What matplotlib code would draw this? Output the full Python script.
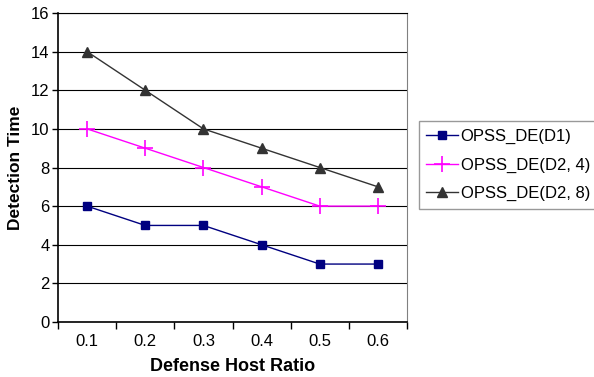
import matplotlib.pyplot as plt
import numpy as np

plt.rcParams['font.family'] = ['Liberation Sans', 'DejaVu Sans']

# data
ratios = ["0.1", "0.2", "0.3", "0.4", "0.5", "0.6"]
d1 = [6, 5, 5, 4, 3, 3]
d2_4 = [10, 9, 8, 7, 6, 6]
d2_8 = [14, 12, 10, 9, 8, 7]

fig = plt.figure(figsize=(5.94, 3.77), dpi=100)
ax = fig.add_axes([58 / 594, 55 / 377, 349 / 594, 309 / 377])

x = np.arange(len(ratios))
ax.plot(x, d1, color="#000080", marker="s", markersize=6, lw=1, label="OPSS_DE(D1)")
ax.plot(x, d2_4, color="#FF00FF", marker="+", markersize=12, mew=1.2, lw=1, label="OPSS_DE(D2, 4)")
ax.plot(x, d2_8, color="#333333", marker="^", markersize=7.5, lw=1, label="OPSS_DE(D2, 8)")

ax.set_xlim(-0.5, len(ratios) - 0.5)
ax.set_ylim(0, 16)
ax.set_yticks(range(0, 17, 2))
ax.set_xticks(x)
ax.set_xticklabels(ratios)
ax.set_xticks(np.arange(-0.5, len(ratios), 1), minor=True)
ax.tick_params(axis="x", which="major", length=0, labelsize=12, pad=9)
ax.tick_params(axis="x", which="minor", length=5, width=1, direction="out")
ax.tick_params(axis="y", length=4, width=1, direction="out", labelsize=12, pad=2)
ax.yaxis.grid(True, color="black", lw=0.8)
ax.set_axisbelow(True)

ax.spines["left"].set_linewidth(1.2)
ax.spines["bottom"].set_linewidth(1.2)
ax.spines["top"].set_color("black")
ax.spines["right"].set_color("#808080")

ax.set_xlabel("Defense Host Ratio", fontsize=13, fontweight="bold", labelpad=6)
ax.set_ylabel("Detection Time", fontsize=12.5, fontweight="bold", labelpad=6)

leg = ax.legend(loc="center left", bbox_to_anchor=(1.034, 0.508), fontsize=12,
                frameon=True, fancybox=False, edgecolor="#808080",
                handlelength=1.9, handletextpad=0.15, borderpad=0.45, labelspacing=0.8,
                borderaxespad=0)
leg.get_frame().set_linewidth(1)

plt.savefig("out.png", dpi=100)
